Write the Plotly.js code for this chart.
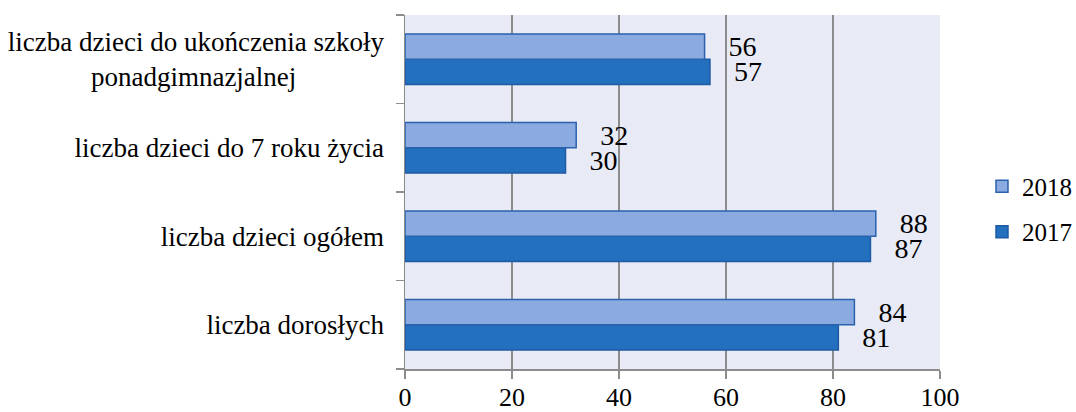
<!DOCTYPE html>
<html>
<head>
<meta charset="utf-8">
<script src="https://cdn.plot.ly/plotly-3.0.1.min.js"></script>
<style>html,body{margin:0;padding:0;background:#fff;}#chart{width:1076px;height:412px;}</style>
</head>
<body>
<div id="chart"></div>
<script>
const NB = '\u00a0';
const categories = [
  'liczba dorosłych',
  'liczba dzieci ogółem',
  'liczba dzieci do 7 roku życia',
  'liczba dzieci do ukończenia szkoły<br>ponadgimnazjalnej' + NB.repeat(13)
];
const values2017 = [81, 87, 30, 57];
const values2018 = [84, 88, 32, 56];
const xTicks = [0, 20, 40, 60, 80, 100];

const font = 'Liberation Serif';

const traces = [
  {
    type: 'bar', orientation: 'h', name: '2017', legendgroup: 'a', legendrank: 2,
    y: categories, x: values2017,
    marker: {color: '#2370be', line: {color: '#1c5aa3', width: 1.5}},
    texttemplate: NB.repeat(3) + '%{x}',
    textposition: 'outside', constraintext: 'none', cliponaxis: false,
    textfont: {family: font, size: 28, color: '#000'},
    hoverinfo: 'none'
  },
  {
    type: 'bar', orientation: 'h', name: '2018', legendgroup: 'b', legendrank: 1,
    y: categories, x: values2018,
    marker: {color: '#8aaae0', line: {color: '#2a62ae', width: 1.5}},
    texttemplate: NB.repeat(3) + '%{x}',
    textposition: 'outside', constraintext: 'none', cliponaxis: false,
    textfont: {family: font, size: 28, color: '#000'},
    hoverinfo: 'none'
  }
];

const layout = {
  width: 1076, height: 412,
  margin: {l: 405, r: 136, t: 15, b: 43, pad: 0, autoexpand: false},
  paper_bgcolor: '#ffffff',
  plot_bgcolor: '#e8ebf6',
  barmode: 'group',
  bargap: 0.43,
  bargroupgap: 0,
  font: {family: font, color: '#000', size: 26},
  showlegend: true,
  legend: {
    x: 1.0785, xanchor: 'left', y: 0.452, yanchor: 'middle',
    traceorder: 'grouped', tracegroupgap: 10,
    font: {family: font, size: 25, color: '#000'},
    bgcolor: 'rgba(0,0,0,0)', itemclick: false
  },
  xaxis: {
    range: [0, 100], tickvals: xTicks, ticktext: xTicks.map(String),
    showgrid: true, gridcolor: '#8c8c8c', gridwidth: 1.5,
    zeroline: false, showline: true, linecolor: '#8c8c8c', linewidth: 1.5,
    ticks: 'outside', ticklen: 8, tickcolor: '#8c8c8c', tickwidth: 1.5,
    tickfont: {family: font, size: 26, color: '#000'},
    ticklabelstandoff: -4,
    fixedrange: true
  },
  yaxis: {
    type: 'category', categoryorder: 'array', categoryarray: categories,
    showgrid: false, zeroline: false, showline: true, linecolor: '#8c8c8c', linewidth: 1.5,
    ticks: 'outside', tickson: 'boundaries', ticklen: 8, tickcolor: '#8c8c8c', tickwidth: 1.5,
    tickfont: {family: font, size: 27, color: '#000'},
    ticklabelstandoff: 14,
    fixedrange: true
  }
};

Plotly.newPlot('chart', traces, layout, {displayModeBar: false, staticPlot: true});
</script>
</body>
</html>
